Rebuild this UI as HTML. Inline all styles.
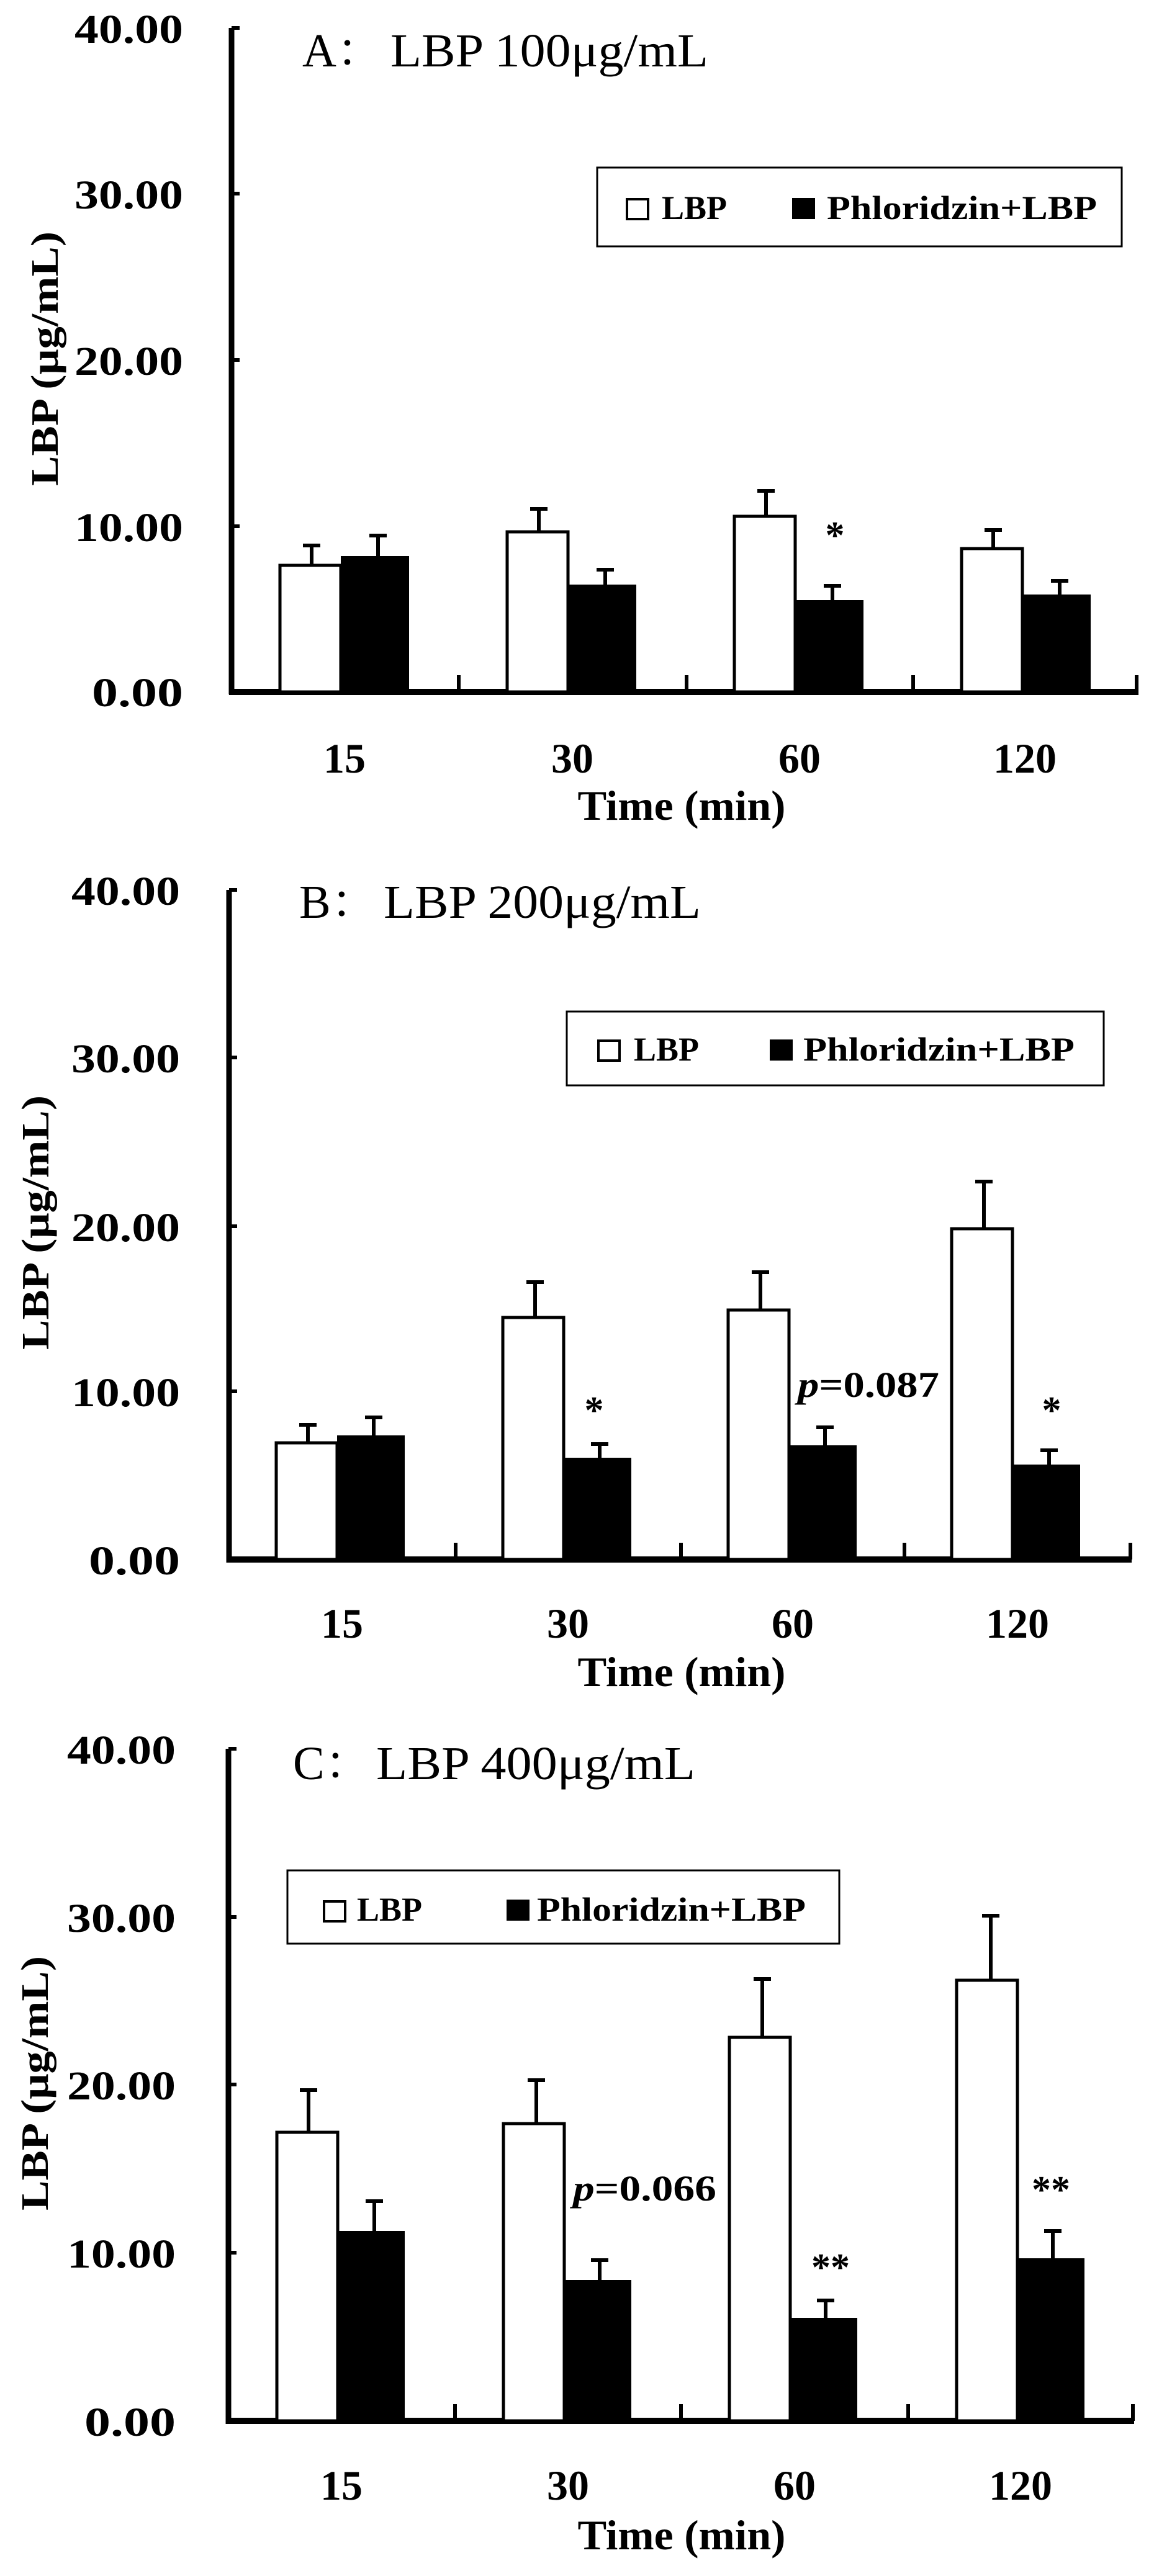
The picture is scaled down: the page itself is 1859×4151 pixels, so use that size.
<!DOCTYPE html>
<html><head><meta charset="utf-8"><style>
html,body{margin:0;padding:0;background:#fff;}
svg{display:block;}
text{font-family:"Liberation Serif","Times New Roman",Tinos,"Nimbus Roman","Noto Serif CJK SC",serif;fill:#000;}
.b{font-weight:bold;}
</style></head><body>
<svg width="1859" height="4151" viewBox="0 0 1859 4151" xmlns="http://www.w3.org/2000/svg" font-family="Liberation Serif, Times New Roman, serif">
<rect width="1859" height="4151" fill="#fff"/>

<!-- ================= PANEL A ================= -->
<g>
<line x1="373" y1="45" x2="373" y2="1119" stroke="#000" stroke-width="9"/>
<line x1="369" y1="1115" x2="1834" y2="1115" stroke="#000" stroke-width="10"/>
<g stroke="#000" stroke-width="6">
<line x1="373" y1="45" x2="386" y2="45"/><line x1="373" y1="312" x2="386" y2="312"/>
<line x1="373" y1="580" x2="386" y2="580"/><line x1="373" y1="848" x2="386" y2="848"/>
<line x1="739" y1="1088" x2="739" y2="1115"/><line x1="1106" y1="1088" x2="1106" y2="1115"/>
<line x1="1471" y1="1088" x2="1471" y2="1115"/><line x1="1831" y1="1088" x2="1831" y2="1115"/>
</g>
<g class="b" font-size="66" text-anchor="end">
<text x="295" y="69" textLength="175" lengthAdjust="spacingAndGlyphs">40.00</text>
<text x="295" y="336" textLength="175" lengthAdjust="spacingAndGlyphs">30.00</text>
<text x="295" y="604" textLength="175" lengthAdjust="spacingAndGlyphs">20.00</text>
<text x="295" y="872" textLength="175" lengthAdjust="spacingAndGlyphs">10.00</text>
<text x="295" y="1138" textLength="147" lengthAdjust="spacingAndGlyphs">0.00</text>
</g>
<text class="b" font-size="62" transform="translate(93,578) rotate(-90)" x="-205" y="0" textLength="410" lengthAdjust="spacingAndGlyphs">LBP (μg/mL)</text>
<text font-size="76" x="487" y="107">A：</text>
<text font-size="76" x="629" y="107" textLength="512" lengthAdjust="spacingAndGlyphs">LBP 100μg/mL</text>
<rect x="962" y="270" width="845" height="127" fill="none" stroke="#000" stroke-width="3"/>
<rect x="1010" y="321" width="34" height="32" fill="#fff" stroke="#000" stroke-width="4"/>
<text class="b" font-size="54" x="1066" y="353">LBP</text>
<rect x="1276" y="319" width="37" height="34" fill="#000"/>
<text class="b" font-size="54" x="1332" y="353" textLength="435" lengthAdjust="spacingAndGlyphs">Phloridzin+LBP</text>
<g stroke="#000" stroke-width="5">
<rect x="451" y="911" width="98" height="204" fill="#fff"/>
<rect x="817" y="857" width="98" height="258" fill="#fff"/>
<rect x="1183" y="832" width="98" height="283" fill="#fff"/>
<rect x="1549" y="884" width="98" height="231" fill="#fff"/>
</g>
<g fill="#000">
<rect x="549" y="896" width="110" height="219"/>
<rect x="915" y="942" width="110" height="173"/>
<rect x="1281" y="967" width="110" height="148"/>
<rect x="1647" y="958" width="110" height="157"/>
</g>
<g stroke="#000" stroke-width="6">
<line x1="502" y1="911" x2="502" y2="879"/><line x1="488" y1="879" x2="516" y2="879"/>
<line x1="609" y1="896" x2="609" y2="863"/><line x1="595" y1="863" x2="623" y2="863"/>
<line x1="868" y1="857" x2="868" y2="820"/><line x1="854" y1="820" x2="882" y2="820"/>
<line x1="975" y1="942" x2="975" y2="918"/><line x1="961" y1="918" x2="989" y2="918"/>
<line x1="1234" y1="832" x2="1234" y2="791"/><line x1="1220" y1="791" x2="1248" y2="791"/>
<line x1="1341" y1="967" x2="1341" y2="944"/><line x1="1327" y1="944" x2="1355" y2="944"/>
<line x1="1600" y1="884" x2="1600" y2="854"/><line x1="1586" y1="854" x2="1614" y2="854"/>
<line x1="1707" y1="958" x2="1707" y2="936"/><line x1="1693" y1="936" x2="1721" y2="936"/>
</g>
<text class="b" font-size="62" x="1345" y="883" text-anchor="middle">*</text>
<g class="b" font-size="68" text-anchor="middle">
<text x="555" y="1245">15</text><text x="922" y="1245">30</text>
<text x="1288" y="1245">60</text><text x="1651" y="1245">120</text>
<text x="1098" y="1321" textLength="335" lengthAdjust="spacingAndGlyphs">Time (min)</text>
</g>
</g>

<!-- ================= PANEL B ================= -->
<g>
<line x1="369" y1="1434" x2="369" y2="2518" stroke="#000" stroke-width="9"/>
<line x1="365" y1="2513" x2="1823" y2="2513" stroke="#000" stroke-width="10"/>
<g stroke="#000" stroke-width="6">
<line x1="369" y1="1434" x2="382" y2="1434"/><line x1="369" y1="1704" x2="382" y2="1704"/>
<line x1="369" y1="1976" x2="382" y2="1976"/><line x1="369" y1="2242" x2="382" y2="2242"/>
<line x1="734" y1="2486" x2="734" y2="2513"/><line x1="1097" y1="2486" x2="1097" y2="2513"/>
<line x1="1457" y1="2486" x2="1457" y2="2513"/><line x1="1821" y1="2486" x2="1821" y2="2513"/>
</g>
<g class="b" font-size="66" text-anchor="end">
<text x="290" y="1458" textLength="175" lengthAdjust="spacingAndGlyphs">40.00</text>
<text x="290" y="1728" textLength="175" lengthAdjust="spacingAndGlyphs">30.00</text>
<text x="290" y="2000" textLength="175" lengthAdjust="spacingAndGlyphs">20.00</text>
<text x="290" y="2266" textLength="175" lengthAdjust="spacingAndGlyphs">10.00</text>
<text x="290" y="2537" textLength="147" lengthAdjust="spacingAndGlyphs">0.00</text>
</g>
<text class="b" font-size="62" transform="translate(78,1970) rotate(-90)" x="-205" y="0" textLength="410" lengthAdjust="spacingAndGlyphs">LBP (μg/mL)</text>
<text font-size="76" x="482" y="1479">B：</text>
<text font-size="76" x="618" y="1479" textLength="511" lengthAdjust="spacingAndGlyphs">LBP 200μg/mL</text>
<rect x="913" y="1630" width="865" height="119" fill="none" stroke="#000" stroke-width="3"/>
<rect x="964" y="1677" width="34" height="32" fill="#fff" stroke="#000" stroke-width="4"/>
<text class="b" font-size="54" x="1021" y="1709">LBP</text>
<rect x="1240" y="1675" width="37" height="34" fill="#000"/>
<text class="b" font-size="54" x="1294" y="1709" textLength="437" lengthAdjust="spacingAndGlyphs">Phloridzin+LBP</text>
<g stroke="#000" stroke-width="5">
<rect x="445" y="2325" width="98" height="188" fill="#fff"/>
<rect x="810" y="2123" width="98" height="390" fill="#fff"/>
<rect x="1173" y="2111" width="98" height="402" fill="#fff"/>
<rect x="1533" y="1980" width="98" height="533" fill="#fff"/>
</g>
<g fill="#000">
<rect x="543" y="2313" width="109" height="200"/>
<rect x="908" y="2349" width="109" height="164"/>
<rect x="1271" y="2329" width="109" height="184"/>
<rect x="1631" y="2360" width="109" height="153"/>
</g>
<g stroke="#000" stroke-width="6">
<line x1="496" y1="2325" x2="496" y2="2296"/><line x1="482" y1="2296" x2="510" y2="2296"/>
<line x1="602" y1="2313" x2="602" y2="2284"/><line x1="588" y1="2284" x2="616" y2="2284"/>
<line x1="862" y1="2123" x2="862" y2="2066"/><line x1="848" y1="2066" x2="876" y2="2066"/>
<line x1="966" y1="2349" x2="966" y2="2327"/><line x1="952" y1="2327" x2="980" y2="2327"/>
<line x1="1225" y1="2111" x2="1225" y2="2050"/><line x1="1211" y1="2050" x2="1239" y2="2050"/>
<line x1="1329" y1="2329" x2="1329" y2="2300"/><line x1="1315" y1="2300" x2="1343" y2="2300"/>
<line x1="1585" y1="1980" x2="1585" y2="1904"/><line x1="1571" y1="1904" x2="1599" y2="1904"/>
<line x1="1690" y1="2360" x2="1690" y2="2337"/><line x1="1676" y1="2337" x2="1704" y2="2337"/>
</g>
<text class="b" font-size="62" x="957" y="2293" text-anchor="middle">*</text>
<text class="b" font-size="62" x="1694" y="2293" text-anchor="middle">*</text>
<text class="b" font-size="58" x="1285" y="2251" textLength="228" lengthAdjust="spacingAndGlyphs"><tspan font-style="italic">p</tspan>=0.087</text>
<g class="b" font-size="68" text-anchor="middle">
<text x="551" y="2639">15</text><text x="915" y="2639">30</text>
<text x="1277" y="2639">60</text><text x="1639" y="2639">120</text>
<text x="1098" y="2717" textLength="335" lengthAdjust="spacingAndGlyphs">Time (min)</text>
</g>
</g>

<!-- ================= PANEL C ================= -->
<g>
<line x1="368" y1="2818" x2="368" y2="3906" stroke="#000" stroke-width="9"/>
<line x1="364" y1="3901" x2="1827" y2="3901" stroke="#000" stroke-width="10"/>
<g stroke="#000" stroke-width="6">
<line x1="368" y1="2818" x2="381" y2="2818"/><line x1="368" y1="3089" x2="381" y2="3089"/>
<line x1="368" y1="3359" x2="381" y2="3359"/><line x1="368" y1="3630" x2="381" y2="3630"/>
<line x1="733" y1="3874" x2="733" y2="3901"/><line x1="1097" y1="3874" x2="1097" y2="3901"/>
<line x1="1463" y1="3874" x2="1463" y2="3901"/><line x1="1825" y1="3874" x2="1825" y2="3901"/>
</g>
<g class="b" font-size="66" text-anchor="end">
<text x="283" y="2842" textLength="175" lengthAdjust="spacingAndGlyphs">40.00</text>
<text x="283" y="3113" textLength="175" lengthAdjust="spacingAndGlyphs">30.00</text>
<text x="283" y="3383" textLength="175" lengthAdjust="spacingAndGlyphs">20.00</text>
<text x="283" y="3654" textLength="175" lengthAdjust="spacingAndGlyphs">10.00</text>
<text x="283" y="3925" textLength="147" lengthAdjust="spacingAndGlyphs">0.00</text>
</g>
<text class="b" font-size="62" transform="translate(77,3357) rotate(-90)" x="-205" y="0" textLength="410" lengthAdjust="spacingAndGlyphs">LBP (μg/mL)</text>
<text font-size="76" x="472" y="2867">C：</text>
<text font-size="76" x="606" y="2867" textLength="514" lengthAdjust="spacingAndGlyphs">LBP 400μg/mL</text>
<rect x="463" y="3014" width="889" height="118" fill="none" stroke="#000" stroke-width="3"/>
<rect x="522" y="3064" width="34" height="32" fill="#fff" stroke="#000" stroke-width="4"/>
<text class="b" font-size="54" x="575" y="3095">LBP</text>
<rect x="816" y="3061" width="37" height="34" fill="#000"/>
<text class="b" font-size="54" x="865" y="3095" textLength="433" lengthAdjust="spacingAndGlyphs">Phloridzin+LBP</text>
<g stroke="#000" stroke-width="5">
<rect x="446" y="3436" width="98" height="465" fill="#fff"/>
<rect x="811" y="3422" width="98" height="479" fill="#fff"/>
<rect x="1175" y="3283" width="98" height="618" fill="#fff"/>
<rect x="1541" y="3191" width="98" height="710" fill="#fff"/>
</g>
<g fill="#000">
<rect x="544" y="3595" width="108" height="306"/>
<rect x="909" y="3674" width="108" height="227"/>
<rect x="1273" y="3735" width="108" height="166"/>
<rect x="1639" y="3639" width="108" height="262"/>
</g>
<g stroke="#000" stroke-width="6">
<line x1="497" y1="3436" x2="497" y2="3368"/><line x1="483" y1="3368" x2="511" y2="3368"/>
<line x1="603" y1="3595" x2="603" y2="3547"/><line x1="589" y1="3547" x2="617" y2="3547"/>
<line x1="864" y1="3422" x2="864" y2="3352"/><line x1="850" y1="3352" x2="878" y2="3352"/>
<line x1="966" y1="3674" x2="966" y2="3642"/><line x1="952" y1="3642" x2="980" y2="3642"/>
<line x1="1228" y1="3283" x2="1228" y2="3189"/><line x1="1214" y1="3189" x2="1242" y2="3189"/>
<line x1="1330" y1="3735" x2="1330" y2="3707"/><line x1="1316" y1="3707" x2="1344" y2="3707"/>
<line x1="1596" y1="3191" x2="1596" y2="3087"/><line x1="1582" y1="3087" x2="1610" y2="3087"/>
<line x1="1696" y1="3639" x2="1696" y2="3595"/><line x1="1682" y1="3595" x2="1710" y2="3595"/>
</g>
<text class="b" font-size="62" x="1338" y="3674" text-anchor="middle">**</text>
<text class="b" font-size="62" x="1693" y="3549" text-anchor="middle">**</text>
<text class="b" font-size="58" x="923" y="3546" textLength="231" lengthAdjust="spacingAndGlyphs"><tspan font-style="italic">p</tspan>=0.066</text>
<g class="b" font-size="68" text-anchor="middle">
<text x="550" y="4028">15</text><text x="915" y="4028">30</text>
<text x="1280" y="4028">60</text><text x="1644" y="4028">120</text>
<text x="1098" y="4108" textLength="335" lengthAdjust="spacingAndGlyphs">Time (min)</text>
</g>
</g>
</svg>
</body></html>
